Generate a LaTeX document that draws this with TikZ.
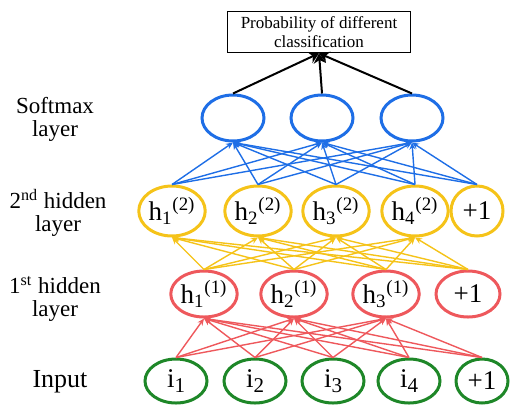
\documentclass[tikz,border=0pt]{standalone}
\usepackage{fontspec}
\setmainfont{Liberation Serif}[Ligatures=TeX]
\newfontfamily\figfont{Liberation Serif}
\usetikzlibrary{shapes.geometric,arrows.meta}

\definecolor{smblue}{RGB}{30,110,230}
\definecolor{hidyellow}{RGB}{245,195,25}
\definecolor{hidred}{RGB}{238,88,92}
\definecolor{ingreen}{RGB}{30,135,40}

\newcommand{\lowsub}[1]{\raisebox{-0.45ex}{\fontsize{10.5}{10.5}\selectfont #1}}

\begin{document}
\begin{tikzpicture}[
    x=0.5pt, y=-0.5pt,
    every node/.style={font=\figfont\fontsize{13.5}{14}\selectfont},
    >={Stealth[length=3.5pt,width=3pt]},
    unit/.style={ellipse, draw, line width=1.5pt, minimum width=31pt, minimum height=23pt, inner sep=0pt},
    bias/.style={unit, minimum width=26pt},
    layerlabel/.style={align=center, font=\figfont\fontsize{11.5}{11.5}\selectfont},
    link/.style={->, line width=0.7pt},
]

\useasboundingbox (0,0) rectangle (522,407);

% === Output box ===
\node[draw, line width=0.8pt, minimum width=91.5pt, minimum height=20.5pt, inner sep=1pt,
      align=center, font=\figfont\fontsize{8.5}{9.5}\selectfont] (out) at (319,32)
    {Probability of different\\classification};

% === Softmax layer ===
\foreach \k/\xs in {1/233, 2/322, 3/412}
    \node[unit, draw=smblue, minimum height=23pt] (sm-\k) at (\xs,118) {};

% === 2nd hidden layer (yellow) ===
\foreach \j/\xs in {1/172, 2/258, 3/336, 4/415}
    \node[unit, draw=hidyellow, minimum height=25pt] (hb-\j) at (\xs,211)
        {h\textsubscript{\j}\textsuperscript{(2)}};
\node[bias, draw=hidyellow, minimum height=25pt] (hb-5) at (477,211) {+1};

% === 1st hidden layer (red) ===
\foreach \j/\xs in {1/204, 2/294, 3/386}
    \node[unit, draw=hidred, minimum width=32pt] (ha-\j) at (\xs,294)
        {h\textsubscript{\j}\textsuperscript{(1)}};
\node[unit, draw=hidred, minimum width=32pt] (ha-4) at (468,294) {+1};

% === Input layer (green) ===
\foreach \i/\xs in {1/176, 2/255, 3/333, 4/409}
    \node[unit, draw=ingreen, minimum height=22pt] (in-\i) at (\xs,381) {i\lowsub{\i}};
\node[bias, draw=ingreen, minimum height=22pt] (in-5) at (482,381) {+1};

% === Connections ===
% input -> 1st hidden (no link into the +1 unit)
\foreach \i in {1,...,5}
    \foreach \j in {1,2,3}
        \draw[link, hidred] (in-\i.north) -- (ha-\j.south);

% 1st hidden -> 2nd hidden
\foreach \i in {1,...,4}
    \foreach \j in {1,...,4}
        \draw[link, hidyellow] (ha-\i.north) -- (hb-\j.south);

% 2nd hidden -> softmax
\foreach \j in {1,...,5}
    \foreach \k in {1,2,3}
        \draw[link, smblue] (hb-\j.north) -- (sm-\k.south);

% softmax -> output box
\foreach \k in {1,2,3}
    \draw[->, line width=1pt, >={Stealth[length=5pt,width=6pt]}] (sm-\k.north) -- (out.south);

% === Layer labels ===
\node[layerlabel] (lab-sm) at (55,119) {Softmax\\layer};
\node[layerlabel] (lab-hb) at (58,213) {2\textsuperscript{nd} hidden\\layer};
\node[layerlabel] (lab-ha) at (55,299) {1\textsuperscript{st} hidden\\layer};
\node[layerlabel, font=\figfont\fontsize{13}{13}\selectfont] (lab-in) at (60,382) {Input};

\end{tikzpicture}
\end{document}
